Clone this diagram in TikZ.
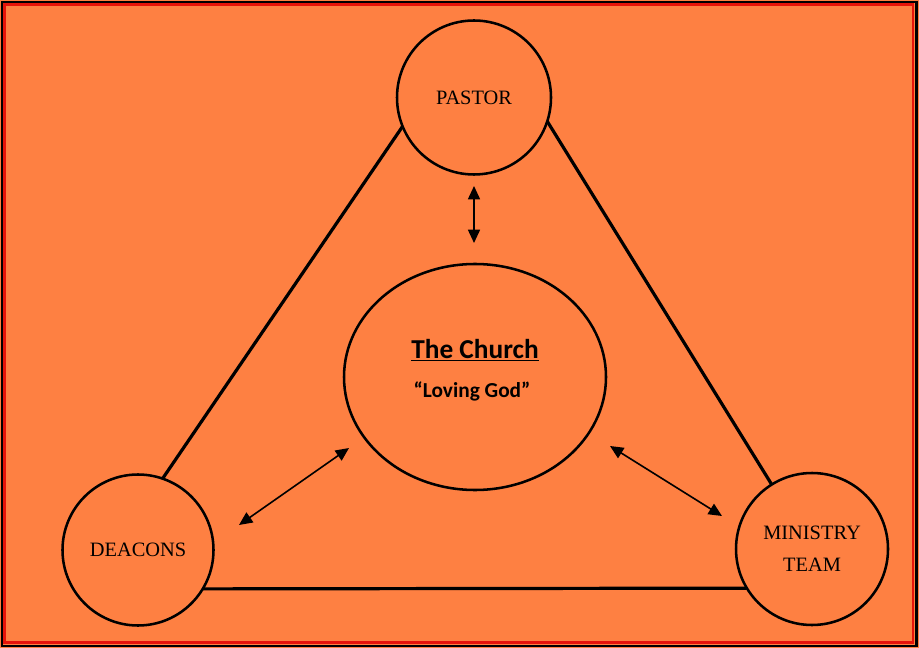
\documentclass[tikz,border=0pt]{standalone}
\usepackage{fontspec}
\setmainfont{Liberation Serif}
\newfontfamily\calib{Carlito}
\usetikzlibrary{arrows.meta,shapes.geometric}
\definecolor{bgorange}{RGB}{254,128,66}
\definecolor{frame}{RGB}{230,20,10}
\begin{document}
\begin{tikzpicture}[x=0.75pt,y=-0.75pt,
  role/.style={circle,draw=black,line width=1.9pt,fill=bgorange,inner sep=0pt,outer sep=0pt,minimum size=#1*0.75pt,font=\fontsize{15.3}{17}\selectfont,align=center},
  side/.style={line width=2.4pt},
  link/.style={line width=1.2pt,{Triangle[length=10pt,width=9pt]}-{Triangle[length=10pt,width=9pt]}}]
\useasboundingbox (0,0) rectangle (919,648);
\fill[bgorange] (0,0) rectangle (919,648);
\draw[black,line width=1.6pt] (2,2) rectangle (916.5,646);
\draw[frame,line width=2.2pt] (4.8,4.8) rectangle (913,642.5);
\node[role=154] (pastor) at (474,97.5) {PASTOR};
\node[role=151] (deacons) at (138,550) {DEACONS};
\node[role=152] (ministry) at (812,549) {MINISTRY\\[7pt]TEAM};
\node[ellipse,draw=black,line width=1.9pt,minimum width=262*0.75pt,minimum height=226*0.75pt,inner sep=0pt,outer sep=0pt] (church) at (475,377) {};
\node[font=\calib\bfseries\fontsize{20.5}{24}\selectfont] (title) at (475,350) {\underline{The Church}};
\node[font=\calib\bfseries\fontsize{16}{19}\selectfont] (motto) at (472,391) {“Loving God”};
\draw[side] (pastor.202) -- (deacons.71.8);
\draw[side] (pastor.-18.6) -- (ministry.122.4);
\draw[side] (deacons.-31.2) -- (ministry.211);
\coordinate (a1) at (474,186);
\coordinate (a2) at (474,243);
\coordinate (b1) at (349,448);
\coordinate (b2) at (239,525);
\coordinate (c1) at (610,446);
\coordinate (c2) at (722,516);
\draw[link] (a1) -- (a2);
\draw[link] (b1) -- (b2);
\draw[link] (c1) -- (c2);
\end{tikzpicture}
\end{document}
